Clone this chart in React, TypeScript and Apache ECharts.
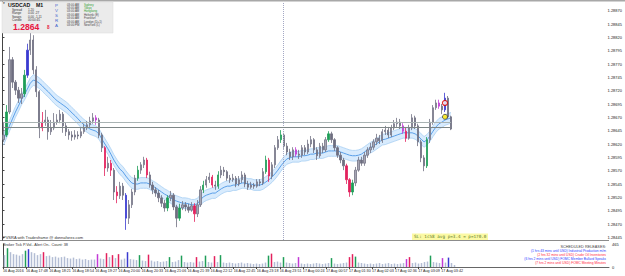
import React, { useEffect, useRef } from "react";
import * as echarts from "echarts";

// ---- price data (USDCAD M1) ----
const opens = [
  1.28628,1.28637,1.28680,1.28778,1.28736,1.28721,1.28706,1.28714,1.28749,1.28796,
  1.28815,1.28759,1.28718,1.28650,1.28661,1.28665,1.28643,1.28650,1.28661,1.28665,
  1.28676,1.28654,1.28643,1.28637,1.28633,1.28637,1.28635,1.28643,1.28650,1.28656,
  1.28663,1.28669,1.28665,1.28637,1.28613,1.28575,1.28584,1.28571,1.28530,1.28523,
  1.28541,1.28524,1.28481,1.28506,1.28530,1.28556,1.28571,1.28581,1.28590,1.28562,
  1.28543,1.28534,1.28528,1.28519,1.28509,1.28500,1.28519,1.28524,1.28502,1.28481,
  1.28500,1.28506,1.28502,1.28496,1.28504,1.28489,1.28506,1.28534,1.28543,1.28553,
  1.28558,1.28543,1.28541,1.28562,1.28571,1.28568,1.28556,1.28553,1.28556,1.28545,
  1.28553,1.28562,1.28545,1.28539,1.28543,1.28541,1.28549,1.28547,1.28568,1.28590,
  1.28560,1.28581,1.28613,1.28628,1.28637,1.28616,1.28605,1.28596,1.28609,1.28601,
  1.28599,1.28613,1.28605,1.28620,1.28628,1.28609,1.28598,1.28616,1.28609,1.28628,
  1.28639,1.28628,1.28613,1.28599,1.28590,1.28579,1.28553,1.28530,1.28547,1.28571,
  1.28590,1.28584,1.28599,1.28609,1.28614,1.28624,1.28631,1.28626,1.28643,1.28646,
  1.28637,1.28650,1.28658,1.28661,1.28654,1.28644,1.28631,1.28650,1.28669,1.28654,
  1.28624,1.28594,1.28579,1.28628,1.28661,1.28688,1.28697,1.28691,1.28684,1.28706,
  1.28671,
];
const closes = [
  1.28637,1.28680,1.28778,1.28736,1.28721,1.28706,1.28714,1.28749,1.28796,1.28815,
  1.28759,1.28718,1.28650,1.28661,1.28665,1.28643,1.28650,1.28661,1.28665,1.28676,
  1.28654,1.28643,1.28637,1.28633,1.28637,1.28635,1.28643,1.28650,1.28656,1.28663,
  1.28669,1.28665,1.28637,1.28613,1.28575,1.28584,1.28571,1.28530,1.28523,1.28541,
  1.28524,1.28481,1.28506,1.28530,1.28556,1.28571,1.28581,1.28590,1.28562,1.28543,
  1.28534,1.28528,1.28519,1.28509,1.28500,1.28519,1.28524,1.28502,1.28481,1.28500,
  1.28506,1.28502,1.28496,1.28504,1.28489,1.28506,1.28534,1.28543,1.28553,1.28558,
  1.28543,1.28541,1.28562,1.28571,1.28568,1.28556,1.28553,1.28556,1.28545,1.28553,
  1.28562,1.28545,1.28539,1.28543,1.28541,1.28549,1.28547,1.28568,1.28590,1.28560,
  1.28581,1.28613,1.28628,1.28637,1.28616,1.28605,1.28596,1.28609,1.28601,1.28599,
  1.28613,1.28605,1.28620,1.28628,1.28609,1.28598,1.28616,1.28609,1.28628,1.28639,
  1.28628,1.28613,1.28599,1.28590,1.28579,1.28553,1.28530,1.28547,1.28571,1.28590,
  1.28584,1.28599,1.28609,1.28614,1.28624,1.28631,1.28626,1.28643,1.28646,1.28637,
  1.28650,1.28658,1.28661,1.28654,1.28644,1.28631,1.28650,1.28669,1.28654,1.28624,
  1.28594,1.28579,1.28628,1.28661,1.28688,1.28697,1.28691,1.28684,1.28706,1.28671,
  1.28648,
];
const highs = [
  1.28661,1.28693,1.28802,1.28783,1.28740,1.28727,1.28725,1.28759,1.28808,1.28834,
  1.28824,1.28766,1.28721,1.28680,1.28684,1.28671,1.28665,1.28678,1.28676,1.28684,
  1.28680,1.28661,1.28648,1.28644,1.28646,1.28644,1.28650,1.28658,1.28663,1.28671,
  1.28678,1.28674,1.28669,1.28641,1.28616,1.28596,1.28590,1.28575,1.28541,1.28549,
  1.28547,1.28528,1.28515,1.28536,1.28562,1.28579,1.28586,1.28596,1.28594,1.28568,
  1.28549,1.28539,1.28534,1.28524,1.28515,1.28524,1.28532,1.28528,1.28506,1.28508,
  1.28513,1.28511,1.28508,1.28511,1.28509,1.28515,1.28541,1.28551,1.28560,1.28566,
  1.28562,1.28551,1.28569,1.28579,1.28577,1.28571,1.28562,1.28564,1.28560,1.28560,
  1.28569,1.28566,1.28551,1.28549,1.28547,1.28554,1.28554,1.28575,1.28598,1.28594,
  1.28586,1.28618,1.28635,1.28646,1.28641,1.28622,1.28611,1.28614,1.28614,1.28609,
  1.28618,1.28618,1.28628,1.28635,1.28631,1.28614,1.28622,1.28622,1.28633,1.28644,
  1.28643,1.28631,1.28616,1.28605,1.28594,1.28583,1.28556,1.28553,1.28577,1.28596,
  1.28596,1.28605,1.28614,1.28622,1.28629,1.28639,1.28637,1.28648,1.28654,1.28652,
  1.28656,1.28665,1.28669,1.28667,1.28659,1.28650,1.28656,1.28676,1.28673,1.28658,
  1.28628,1.28599,1.28633,1.28667,1.28693,1.28703,1.28703,1.28695,1.28716,1.28710,
  1.28673,
];
const lows = [
  1.28624,1.28633,1.28676,1.28725,1.28712,1.28697,1.28695,1.28708,1.28744,1.28787,
  1.28751,1.28708,1.28631,1.28644,1.28654,1.28628,1.28637,1.28646,1.28656,1.28659,
  1.28641,1.28635,1.28628,1.28626,1.28628,1.28629,1.28631,1.28639,1.28646,1.28652,
  1.28658,1.28656,1.28631,1.28605,1.28560,1.28568,1.28560,1.28515,1.28509,1.28517,
  1.28515,1.28459,1.28470,1.28500,1.28524,1.28551,1.28564,1.28575,1.28556,1.28538,
  1.28526,1.28521,1.28511,1.28502,1.28493,1.28494,1.28513,1.28496,1.28464,1.28476,
  1.28496,1.28494,1.28491,1.28493,1.28474,1.28483,1.28502,1.28528,1.28538,1.28547,
  1.28538,1.28534,1.28536,1.28556,1.28560,1.28551,1.28547,1.28549,1.28539,1.28541,
  1.28547,1.28539,1.28534,1.28536,1.28536,1.28538,1.28541,1.28543,1.28564,1.28549,
  1.28554,1.28575,1.28609,1.28622,1.28611,1.28599,1.28590,1.28590,1.28596,1.28592,
  1.28594,1.28599,1.28601,1.28614,1.28603,1.28590,1.28594,1.28603,1.28605,1.28624,
  1.28622,1.28607,1.28594,1.28584,1.28571,1.28545,1.28521,1.28524,1.28541,1.28568,
  1.28579,1.28579,1.28594,1.28603,1.28609,1.28618,1.28620,1.28622,1.28637,1.28631,
  1.28633,1.28646,1.28652,1.28648,1.28639,1.28624,1.28628,1.28646,1.28648,1.28616,
  1.28586,1.28569,1.28575,1.28622,1.28656,1.28684,1.28686,1.28676,1.28680,1.28667,
  1.28646,
];
const maValues = [
  1.28628,1.28641,1.28654,1.28667,1.28680,1.28691,1.28703,1.28712,1.28723,1.28734,
  1.28740,1.28738,1.28734,1.28729,1.28723,1.28718,1.28712,1.28706,1.28701,1.28697,
  1.28693,1.28689,1.28684,1.28678,1.28673,1.28667,1.28661,1.28656,1.28652,1.28648,
  1.28646,1.28644,1.28639,1.28629,1.28620,1.28611,1.28601,1.28590,1.28581,1.28573,
  1.28568,1.28560,1.28553,1.28547,1.28545,1.28545,1.28547,1.28547,1.28547,1.28545,
  1.28541,1.28538,1.28534,1.28530,1.28526,1.28523,1.28519,1.28515,1.28513,1.28511,
  1.28509,1.28509,1.28508,1.28506,1.28506,1.28508,1.28515,1.28521,1.28524,1.28526,
  1.28528,1.28528,1.28532,1.28536,1.28539,1.28541,1.28541,1.28543,1.28543,1.28545,
  1.28547,1.28547,1.28545,1.28545,1.28543,1.28543,1.28543,1.28545,1.28549,1.28553,
  1.28558,1.28564,1.28571,1.28579,1.28586,1.28592,1.28594,1.28596,1.28596,1.28596,
  1.28598,1.28598,1.28599,1.28601,1.28601,1.28603,1.28603,1.28603,1.28605,1.28607,
  1.28607,1.28607,1.28607,1.28605,1.28603,1.28601,1.28599,1.28598,1.28598,1.28599,
  1.28601,1.28605,1.28609,1.28613,1.28616,1.28620,1.28624,1.28628,1.28629,1.28631,
  1.28633,1.28635,1.28637,1.28639,1.28641,1.28641,1.28641,1.28641,1.28639,1.28635,
  1.28629,1.28624,1.28628,1.28635,1.28644,1.28652,1.28658,1.28661,1.28665,1.28667,
  1.28669,
];
const ENVELOPE = 0.0001;
const volumes = [
  240,380,300,260,250,230,260,330,360,300,
  280,240,260,300,220,230,200,210,190,200,
  210,180,170,190,160,170,150,160,140,150,
  150,260,170,160,280,200,240,180,260,150,
  170,300,160,150,140,240,130,120,250,130,
  110,120,100,110,120,200,100,110,140,230,
  100,90,100,90,200,110,120,230,100,90,
  220,100,240,90,80,90,80,70,80,90,
  70,80,70,60,70,60,70,90,230,270,
  100,110,90,200,90,80,70,80,200,70,
  60,70,60,70,80,70,60,70,80,180,
  70,60,70,80,90,200,260,210,90,80,
  70,60,70,60,70,80,60,70,80,60,
  70,60,70,80,160,200,80,90,70,80,
  100,110,230,100,90,80,180,90,190,80,
  40,
];
const VOLUME_MAX = 465;
// PVSRA climax / rising-volume bars: index -> kind
const climaxBars: Record<number, string> = {
  1: "G", 7: "G", 8: "B", 13: "R", 31: "M", 34: "R", 36: "R", 38: "R", 41: "B", 45: "G",
  48: "R", 55: "G", 59: "G", 64: "R", 67: "G", 70: "R", 72: "G", 88: "G", 89: "R", 93: "G",
  98: "M", 109: "G", 115: "R", 116: "R", 117: "G", 134: "M", 135: "R", 142: "G", 146: "M", 148: "B",
};
const currentPrice = 1.28648;
const boxHigh = 1.28661;
const boxLow = 1.28652;
const levelUpper = 1.28727;
const levelLower = 1.28545;
const signalRed = [[148, 1.28697]];
const signalYellow = [[148, 1.28671]];
const yTicks = [
  1.28870,1.28845,1.28820,1.28795,1.28770,1.28745,1.28720,1.28695,1.28670,
  1.28645,1.28620,1.28595,1.28570,1.28545,1.28520,1.28495,1.28470,1.28445,
];
const PRICE_MIN = 1.2844;
const PRICE_MAX = 1.2888625;
const timeLabels = [
  "16 Aug 2016","16 Aug 17:48","16 Aug 18:21","16 Aug 18:54","16 Aug 19:27","16 Aug 20:00",
  "16 Aug 20:33","16 Aug 21:06","16 Aug 21:39","16 Aug 22:12","16 Aug 22:45","16 Aug 23:18",
  "16 Aug 23:51","17 Aug 00:24","17 Aug 00:57","17 Aug 01:30","17 Aug 02:03","17 Aug 02:36",
  "17 Aug 03:09","17 Aug 03:42",
];
const LABEL_STEP_MIN = 33;
const TIMELINE_MIN = 867;
const DAY_BREAK_MIN = 405;
const SLOT_COUNT = 202;

const sessionTimes = ["03:00 AM","03:00 AM","03:00 AM","03:00 AM","03:00 AM","03:00 AM","03:00 PM"];
const sessionNames = ["Sydney","Tokyo","Hongkong","Helsinki (E)","Frankfurt","London (D+1)","NewYork (L)"];
const infoRows = [["Spread","1.20"],["Range","0.00 .27"],["Swaps","0.00 -1.11"],["Candle","00:00:45"]];
const releases = [
  ["(1 hrs 43 mins until USD) Industrial Production m/m", "#2a3cff"],
  ["(2 hrs 32 mins until USD) Crude Oil Inventories", "#ff1f3d"],
  ["(6 hrs 2 mins until USD) FOMC Member Bullard Speaks", "#2a3cff"],
  ["(7 hrs 2 mins until USD) FOMC Meeting Minutes", "#ff1f3d"],
];

const KIND_COLORS: Record<string, string> = { G: "#1f9e58", R: "#e3215d", B: "#3a3ad0", M: "#c23ad6" };
const FONT = "Liberation Sans, Arial, sans-serif";

export default function App() {
  const ref = useRef<HTMLDivElement>(null);
  useEffect(() => {
    document.body.style.margin = "0";
    const chart = echarts.init(ref.current!, null, { renderer: "svg" });
    const slots = Array.from({ length: SLOT_COUNT }, (_, i) => String(i));

    const candleData = opens.map((o, i) => {
      const k = climaxBars[i];
      const item: any = { value: [o, closes[i], lows[i], highs[i]] };
      if (k) {
        const c = KIND_COLORS[k];
        item.itemStyle = { color: c, color0: c, borderColor: c, borderColor0: c };
      }
      return item;
    });
    const volumeData = volumes.map((v, i) => {
      const k = climaxBars[i];
      return { value: v, itemStyle: { color: k ? KIND_COLORS[k] : "#b3bdd4" } };
    });
    const bandLow = maValues.map((v) => v - ENVELOPE);
    const bandWidth = maValues.map(() => 2 * ENVELOPE);

    const txt = (text: string, x: number, y: number, size: number, fill: string, extra: any = {}) => ({
      type: "text",
      x,
      y,
      z: 101,
      silent: true,
      style: {
        text,
        fontSize: size,
        fontFamily: FONT,
        fill,
        textVerticalAlign: "middle",
        textAlign: "left",
        ...extra,
      },
    });

    const graphics: any[] = [
      { type: "rect", shape: { x: 0, y: 0, width: 625, height: 1.5 }, style: { fill: "#a8a8a8" }, silent: true },
      { type: "line", shape: { x1: 0, y1: 240.5, x2: 609, y2: 240.5 }, style: { stroke: "#8c8c8c", lineWidth: 1 }, silent: true },
      { type: "rect", z: 100, shape: { x: 2, y: 2, width: 111, height: 31 }, style: { fill: "#ebebeb", stroke: "#d8d8d8", lineWidth: 0.5 }, silent: true },
      txt("*", 3, 4.6, 4.5, "#222"),
      txt("USDCAD", 8, 5.2, 5.2, "#111", { fontWeight: "bold" }),
      txt("M1", 36, 5.2, 5.2, "#111", { fontWeight: "bold" }),
      txt("1.2864", 13, 26.6, 8.6, "#e8163f", { fontWeight: "bold" }),
      txt("8", 47, 27.4, 4.6, "#e8163f", { fontWeight: "bold" }),
      txt("PVSRA with Tradesframe @ donnaforex.com", 3, 237, 4, "#333"),
      txt("Broker Tick P.Vol.. Alert On.. Count: 38", 3, 244.5, 3.8, "#333"),
      txt("SCHEDULED RELEASES:", 606, 246.6, 3.8, "#444", { textAlign: "right" }),
      { type: "rect", z: 100, shape: { x: 412, y: 233.5, width: 76, height: 6.5 }, style: { fill: "#fbf9a4" }, silent: true },
      txt("SL: 1c58 avg p=3.4 = p=170.0", 414, 236.8, 4.3, "#5b7a2a", { fontFamily: "DejaVu Sans Mono, monospace" }),
    ];
    infoRows.forEach(([label, value], k) => {
      graphics.push(txt(label, 12, 9.8 + 3.3 * k, 3.1, "#333"));
      graphics.push(txt(value, 28, 9.8 + 3.3 * k, 3.1, "#333"));
    });
    "PVSRA".split("").forEach((ch, k) => {
      graphics.push(txt(ch, 56.5, 5 + 5 * k, 4.4, "#4466cc", { textAlign: "center" }));
    });
    sessionNames.forEach((name, k) => {
      graphics.push(txt(sessionTimes[k], 67, 4.3 + 3.4 * k, 2.9, "#444"));
      graphics.push(txt(name, 84, 4.3 + 3.4 * k, 2.9, k < 3 ? "#2e9e2e" : "#444"));
    });
    releases.forEach(([t, c], k) => {
      graphics.push(txt(t, 606, 251 + 4.1 * k, 3.3, c, { textAlign: "right" }));
    });

    const axisText = { fontSize: 4, color: "#222", fontFamily: FONT };

    const option: any = {
      animation: false,
      backgroundColor: "#ffffff",
      grid: [
        { left: 2, right: 16, top: 2, height: 238 },
        { left: 2, right: 16, top: 244, height: 23 },
      ],
      xAxis: [
        { type: "category", gridIndex: 0, data: slots, show: false, boundaryGap: true },
        { type: "value", gridIndex: 0, min: 0, max: TIMELINE_MIN, show: false },
        { type: "category", gridIndex: 1, data: slots, show: false, boundaryGap: true },
        {
          type: "value",
          gridIndex: 1,
          min: 0,
          max: TIMELINE_MIN,
          position: "bottom",
          axisLine: { show: true, lineStyle: { color: "#666", width: 1 } },
          axisTick: { show: true, length: 2, lineStyle: { color: "#444" }, customValues: timeLabels.map((_, k) => k * LABEL_STEP_MIN) },
          splitLine: { show: false },
          axisLabel: {
            ...axisText,
            fontSize: 3.7,
            align: "left",
            margin: 2,
            customValues: timeLabels.map((_, k) => k * LABEL_STEP_MIN),
            formatter: (v: number) => timeLabels[Math.round(v / LABEL_STEP_MIN)] ?? "",
          },
        },
      ],
      yAxis: [
        {
          type: "value",
          gridIndex: 0,
          position: "right",
          min: PRICE_MIN,
          max: PRICE_MAX,
          axisLine: { show: true, lineStyle: { color: "#444", width: 1 } },
          axisTick: { show: true, length: 2.5, lineStyle: { color: "#444" }, customValues: yTicks },
          splitLine: { show: false },
          axisLabel: { ...axisText, margin: 3, customValues: yTicks, formatter: (v: number) => v.toFixed(5) },
        },
        {
          type: "value",
          gridIndex: 1,
          position: "right",
          min: 0,
          max: VOLUME_MAX,
          axisLine: { show: true, lineStyle: { color: "#444", width: 1 } },
          axisTick: { show: false },
          splitLine: { show: false },
          axisLabel: { ...axisText, margin: 3, customValues: [0, VOLUME_MAX] },
        },
      ],
      series: [
        {
          name: "envLow",
          type: "line",
          xAxisIndex: 0,
          yAxisIndex: 0,
          data: bandLow,
          stack: "env",
          symbol: "none",
          silent: true,
          lineStyle: { color: "#a8cff3", width: 0.8 },
          z: 1,
        },
        {
          name: "envBand",
          type: "line",
          xAxisIndex: 0,
          yAxisIndex: 0,
          data: bandWidth,
          stack: "env",
          symbol: "none",
          silent: true,
          lineStyle: { color: "#a8cff3", width: 0.8 },
          areaStyle: { color: "#d8ebfd", opacity: 1 },
          z: 1,
        },
        {
          name: "MA",
          type: "line",
          xAxisIndex: 0,
          yAxisIndex: 0,
          data: maValues,
          symbol: "none",
          silent: true,
          lineStyle: { color: "#5a9fe8", width: 1 },
          z: 2,
        },
        {
          name: "dayBreak",
          type: "line",
          xAxisIndex: 1,
          yAxisIndex: 0,
          data: [],
          silent: true,
          markLine: {
            symbol: "none",
            silent: true,
            label: { show: false },
            lineStyle: { type: "dotted", color: "#a4a8c4", width: 1 },
            data: [{ xAxis: DAY_BREAK_MIN }],
          },
        },
        {
          name: "USDCAD",
          type: "candlestick",
          xAxisIndex: 0,
          yAxisIndex: 0,
          data: candleData,
          barWidth: 1.8,
          z: 3,
          itemStyle: {
            color: "#a6a6b4",
            color0: "#6e6e80",
            borderColor: "#737385",
            borderColor0: "#6e6e80",
            borderWidth: 0.8,
          },
          markLine: {
            symbol: "none",
            silent: true,
            label: { show: false },
            data: [
              [
                { coord: ["0", boxHigh], lineStyle: { color: "#a9b3b3", width: 1.2, type: "solid" } },
                { coord: ["150", boxHigh] },
              ],
              [
                { coord: ["0", boxLow], lineStyle: { color: "#7d8686", width: 1, type: "solid" } },
                { coord: ["150", boxLow] },
              ],
              { yAxis: levelUpper, lineStyle: { color: "#f1e2d2", width: 1, type: "solid" } },
              { yAxis: levelLower, lineStyle: { color: "#c4e8c2", width: 1, type: "solid" } },
              {
                yAxis: currentPrice,
                lineStyle: { opacity: 0 },
                label: {
                  show: true,
                  position: "end",
                  distance: 1,
                  formatter: currentPrice.toFixed(5),
                  backgroundColor: "#000",
                  color: "#fff",
                  fontSize: 4,
                  fontFamily: FONT,
                  padding: [1, 1.5],
                },
              },
            ],
          },
        },
        {
          name: "signalRed",
          type: "scatter",
          xAxisIndex: 0,
          yAxisIndex: 0,
          data: signalRed,
          symbolSize: 5,
          z: 5,
          itemStyle: { color: "#ffffff", borderColor: "#d40000", borderWidth: 1.3 },
        },
        {
          name: "signalYellow",
          type: "scatter",
          xAxisIndex: 0,
          yAxisIndex: 0,
          data: signalYellow,
          symbolSize: 5,
          z: 5,
          itemStyle: { color: "#ffe800", borderColor: "#222", borderWidth: 0.8 },
        },
        {
          name: "volume",
          type: "bar",
          xAxisIndex: 2,
          yAxisIndex: 1,
          data: volumeData,
          barWidth: 1.5,
          silent: true,
        },
      ],
      graphic: graphics,
    };
    chart.setOption(option);
    return () => chart.dispose();
  }, []);
  return <div ref={ref} style={{ width: 625, height: 276 }} />;
}
